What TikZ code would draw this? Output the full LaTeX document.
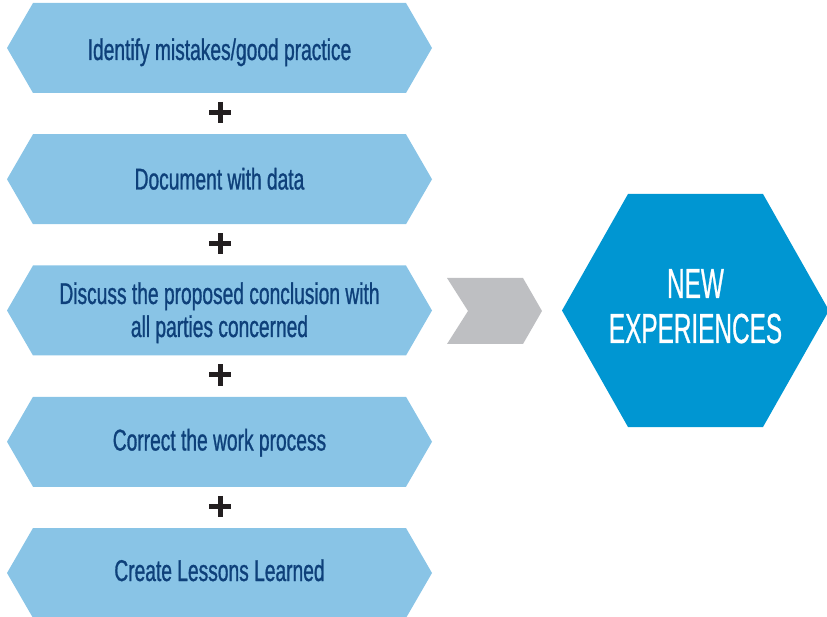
\documentclass[tikz,border=0pt]{standalone}
\usepackage{fontspec}
\newfontfamily\bannerfont[FakeStretch=0.64,FakeBold=0.9]{Liberation Sans}
\newfontfamily\bigfont[FakeStretch=0.58,FakeBold=0.6]{Liberation Sans}
\definecolor{lightband}{RGB}{137,196,230}
\definecolor{navytext}{RGB}{14,64,122}
\definecolor{bighex}{RGB}{0,150,210}
\definecolor{chevgrey}{RGB}{190,191,194}
\definecolor{plusblack}{RGB}{35,31,32}
\tikzset{
  bannertext/.style={text=navytext, font=\bannerfont\fontsize{30}{33}\selectfont, align=center, inner sep=0pt, anchor=base},
  bigtext/.style={text=white, font=\bigfont\fontsize{42}{45}\selectfont, align=center, inner sep=0pt, anchor=base},
  plussign/.style={plusblack, line width=5pt},
}
\begin{document}
\begin{tikzpicture}[x=1pt,y=-1pt]
\useasboundingbox (0,0) rectangle (827,617);
% banners
\foreach \i in {0,...,4}{
  \pgfmathsetmacro{\t}{3+131.25*\i}
  \fill[lightband] (7,\t+45) -- (33,\t) -- (406,\t) -- (432,\t+45) -- (406,\t+90) -- (33,\t+90) -- cycle;
}
\node[bannertext] (b1) at (219.5,60) {Identify mistakes/good practice};
\node[bannertext] (b2) at (219.5,189.5) {Document with data};
\node[bannertext] (b3) at (219.5,337) {Discuss the proposed conclusion with\\all parties concerned};
\node[bannertext] (b4) at (219.5,450.5) {Correct the work process};
\node[bannertext] (b5) at (219.5,581) {Create Lessons Learned};
% plus signs
\foreach \y in {112.5,243.75,375,506.25}{
  \draw[plussign] (209,\y) -- (231,\y);
  \draw[plussign] (220,\y-10.5) -- (220,\y+10.5);
}
% chevron
\fill[chevgrey] (447,278) -- (523,278) -- (542,311) -- (523,344) -- (447,344) -- (468,311) -- cycle;
% big hexagon
\fill[bighex] (562,310.5) -- (628,194) -- (763,194) -- (829,310.5) -- (763,427) -- (628,427) -- cycle;
\node[bigtext] (nx) at (695.5,343) {NEW\\EXPERIENCES};
\end{tikzpicture}
\end{document}
